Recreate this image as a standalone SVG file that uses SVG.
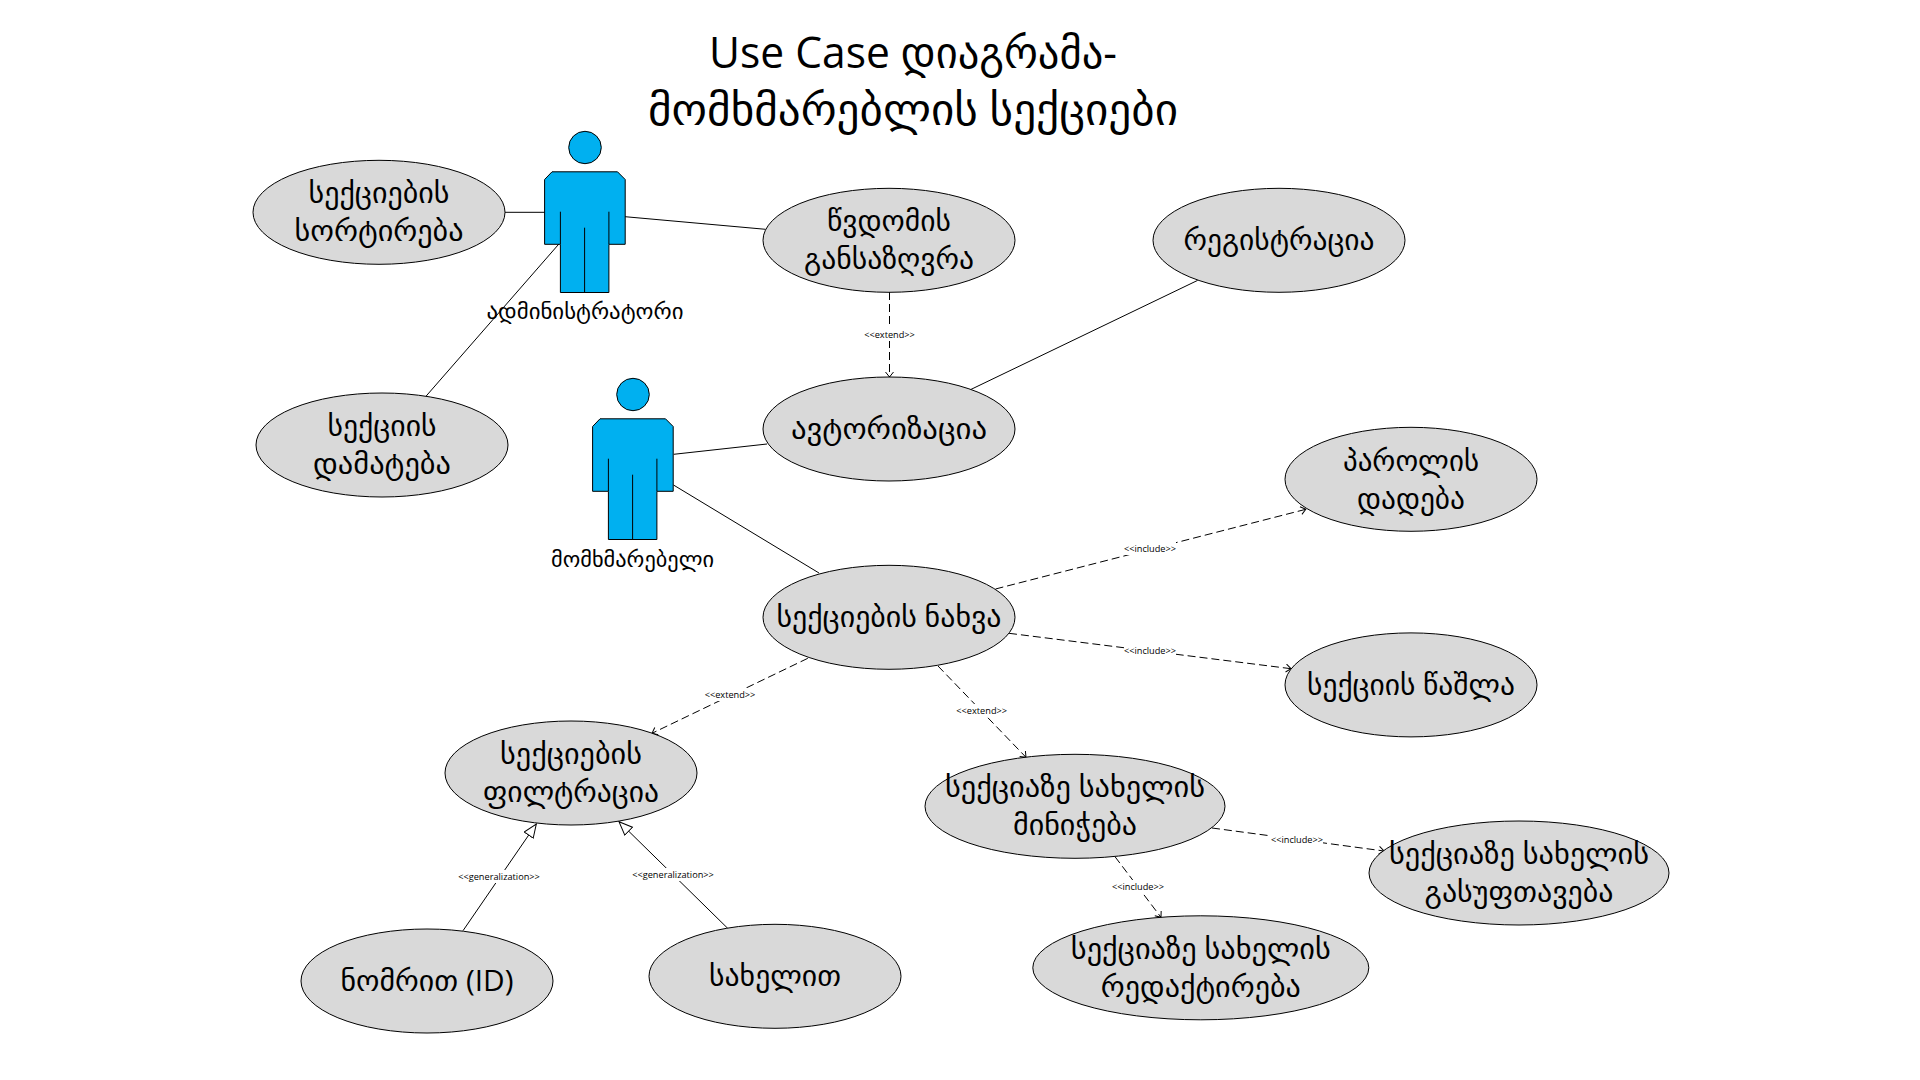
<svg xmlns="http://www.w3.org/2000/svg" width="1920" height="1080" viewBox="0 0 1920 1080">
<defs>
<style>
text{font-family:"Open Sans","DejaVu Sans",sans-serif;fill:#000;text-anchor:middle}
.uc ellipse{fill:#d9d9d9;stroke:#000;stroke-width:1}
.lb{font-size:29px}
.ttl{font-size:44px}
.act{font-size:21px}
.actor *{stroke:#000;stroke-width:1}
.actor .f{fill:#00b0f0}
.actor .l{fill:none}
.s{fill:none;stroke:#000;stroke-width:1}
.d{fill:none;stroke:#000;stroke-width:1;stroke-dasharray:8 4;marker-end:url(#open)}
.g{fill:none;stroke:#000;stroke-width:1;marker-end:url(#tri)}
.cl{font-size:9.200px}
.bg{fill:#fff;stroke:none}
</style>
<marker id="open" markerUnits="userSpaceOnUse" markerWidth="10" markerHeight="10" refX="7" refY="4.500" orient="auto"><path d="M2 0.500L7 4.500L2 8.500" fill="none" stroke="#000" stroke-width="1"/></marker>
<marker id="tri" markerUnits="userSpaceOnUse" markerWidth="16" markerHeight="14" refX="14" refY="6" orient="auto"><path d="M0.500 0.500L14 6L0.500 11.500Z" fill="#fff" stroke="#000" stroke-width="1"/></marker>
</defs>
<rect width="1920" height="1080" fill="#fff"/>
<g id="title">
<text class="ttl" x="913" y="68" textLength="408" lengthAdjust="spacingAndGlyphs">Use Case დიაგრამა-</text>
<text class="ttl" x="913" y="124.500" textLength="530" lengthAdjust="spacingAndGlyphs">მომხმარებლის სექციები</text>
</g>
<g id="connectors">
<line class="s" x1="505" y1="212.300" x2="545" y2="212.300"/>
<line class="s" x1="625" y1="216.700" x2="765.500" y2="229.300"/>
<line class="s" x1="426.200" y1="396" x2="558.900" y2="244"/>
<line class="s" x1="673.700" y1="454.300" x2="767" y2="444"/>
<line class="s" x1="673.500" y1="485" x2="819" y2="573"/>
<line class="s" x1="971" y1="389.400" x2="1197.600" y2="280.400"/>
<line class="d" x1="889.500" y1="292" x2="889.500" y2="377"/>
<line class="d" x1="995.500" y1="589" x2="1305.800" y2="509.300"/>
<line class="d" x1="1009" y1="633.300" x2="1291" y2="668.700"/>
<line class="d" x1="807.800" y1="658.300" x2="652" y2="733.300"/>
<line class="d" x1="938" y1="666" x2="1026" y2="757.300"/>
<line class="d" x1="1212" y1="828" x2="1384" y2="851"/>
<line class="d" x1="1115" y1="856.700" x2="1161" y2="917.300"/>
<line class="g" x1="463" y1="930.700" x2="536.300" y2="824"/>
<line class="g" x1="727.700" y1="928.300" x2="619" y2="821.700"/>
<g id="connector-labels">
<rect class="bg" x="864" y="328" width="51" height="13"/><text class="cl" x="889.500" y="337.500">&lt;&lt;extend&gt;&gt;</text>
<rect class="bg" x="1124" y="542" width="52" height="13"/><text class="cl" x="1150" y="551.500">&lt;&lt;include&gt;&gt;</text>
<rect class="bg" x="1124" y="644" width="52" height="13"/><text class="cl" x="1150" y="654">&lt;&lt;include&gt;&gt;</text>
<rect class="bg" x="704" y="688" width="52" height="13"/><text class="cl" x="730" y="698">&lt;&lt;extend&gt;&gt;</text>
<rect class="bg" x="956" y="704" width="52" height="13"/><text class="cl" x="981.700" y="714">&lt;&lt;extend&gt;&gt;</text>
<rect class="bg" x="1271" y="833" width="52" height="13"/><text class="cl" x="1297" y="843">&lt;&lt;include&gt;&gt;</text>
<rect class="bg" x="1112" y="880" width="52" height="13"/><text class="cl" x="1138" y="890">&lt;&lt;include&gt;&gt;</text>
<rect class="bg" x="457" y="870" width="84" height="13"/><text class="cl" x="499" y="880">&lt;&lt;generalization&gt;&gt;</text>
<rect class="bg" x="631" y="868" width="84" height="13"/><text class="cl" x="673" y="878">&lt;&lt;generalization&gt;&gt;</text>
</g>
</g>
<g id="actor-admin" class="actor">
<ellipse class="f" cx="585" cy="147.500" rx="16.300" ry="16.200"/>
<path class="f" d="M552 171.800H617.500L625.200 179.500V244.300H608.900V292.500H560.400V244.300H544.600V179.500Z"/>
<path class="l" d="M560.400 211.700V244M608.900 211.700V244M584.600 227.700V292.300"/>
<text class="act" style="stroke:none" x="585" y="319" textLength="197" lengthAdjust="spacingAndGlyphs">ადმინისტრატორი</text>
</g>
<g id="actor-user" class="actor">
<ellipse class="f" cx="633" cy="394.500" rx="16.300" ry="16.200"/>
<path class="f" d="M600 418.800H665.500L673.200 426.500V491.300H656.900V539.500H608.400V491.300H592.600V426.500Z"/>
<path class="l" d="M608.400 458.700V491M656.900 458.700V491M632.600 474.700V539.300"/>
<text class="act" style="stroke:none" x="632.500" y="567" textLength="163" lengthAdjust="spacingAndGlyphs">მომხმარებელი</text>
</g>
<g id="uc-sort" class="uc"><ellipse cx="379" cy="212.300" rx="126" ry="52"/>
<text class="lb" x="379" y="203" textLength="141" lengthAdjust="spacingAndGlyphs">სექციების</text>
<text class="lb" x="379" y="241" textLength="169" lengthAdjust="spacingAndGlyphs">სორტირება</text></g>
<g id="uc-add" class="uc"><ellipse cx="382" cy="445" rx="126" ry="52"/>
<text class="lb" x="382" y="436" textLength="109" lengthAdjust="spacingAndGlyphs">სექციის</text>
<text class="lb" x="382" y="474" textLength="138" lengthAdjust="spacingAndGlyphs">დამატება</text></g>
<g id="uc-access" class="uc"><ellipse cx="889" cy="240.300" rx="126" ry="52"/>
<text class="lb" x="889" y="231" textLength="124" lengthAdjust="spacingAndGlyphs">წვდომის</text>
<text class="lb" x="889" y="269" textLength="170" lengthAdjust="spacingAndGlyphs">განსაზღვრა</text></g>
<g id="uc-register" class="uc"><ellipse cx="1279" cy="240.300" rx="126" ry="52"/>
<text class="lb" x="1279" y="250" textLength="191" lengthAdjust="spacingAndGlyphs">რეგისტრაცია</text></g>
<g id="uc-auth" class="uc"><ellipse cx="889" cy="429" rx="126" ry="52"/>
<text class="lb" x="889" y="439" textLength="196" lengthAdjust="spacingAndGlyphs">ავტორიზაცია</text></g>
<g id="uc-view" class="uc"><ellipse cx="889" cy="617.300" rx="126" ry="52"/>
<text class="lb" x="889" y="627" textLength="225" lengthAdjust="spacingAndGlyphs">სექციების ნახვა</text></g>
<g id="uc-password" class="uc"><ellipse cx="1411" cy="479.300" rx="126" ry="52"/>
<text class="lb" x="1411" y="470.500" textLength="136" lengthAdjust="spacingAndGlyphs">პაროლის</text>
<text class="lb" x="1411" y="508.500" textLength="108" lengthAdjust="spacingAndGlyphs">დადება</text></g>
<g id="uc-delete" class="uc"><ellipse cx="1411" cy="684.900" rx="126" ry="52"/>
<text class="lb" x="1411" y="695" textLength="208" lengthAdjust="spacingAndGlyphs">სექციის წაშლა</text></g>
<g id="uc-filter" class="uc"><ellipse cx="571" cy="773" rx="126" ry="52"/>
<text class="lb" x="571" y="764" textLength="142" lengthAdjust="spacingAndGlyphs">სექციების</text>
<text class="lb" x="571" y="802" textLength="176" lengthAdjust="spacingAndGlyphs">ფილტრაცია</text></g>
<g id="uc-assign" class="uc"><ellipse cx="1075" cy="806.300" rx="150" ry="52"/>
<text class="lb" x="1075" y="797" textLength="260" lengthAdjust="spacingAndGlyphs">სექციაზე სახელის</text>
<text class="lb" x="1075" y="835" textLength="124" lengthAdjust="spacingAndGlyphs">მინიჭება</text></g>
<g id="uc-clean" class="uc"><ellipse cx="1519" cy="873" rx="150" ry="52"/>
<text class="lb" x="1519" y="864" textLength="260" lengthAdjust="spacingAndGlyphs">სექციაზე სახელის</text>
<text class="lb" x="1519" y="902" textLength="189" lengthAdjust="spacingAndGlyphs">გასუფთავება</text></g>
<g id="uc-edit" class="uc"><ellipse cx="1200.800" cy="967.800" rx="168" ry="52"/>
<text class="lb" x="1200.800" y="959" textLength="260" lengthAdjust="spacingAndGlyphs">სექციაზე სახელის</text>
<text class="lb" x="1200.800" y="997" textLength="200" lengthAdjust="spacingAndGlyphs">რედაქტირება</text></g>
<g id="uc-id" class="uc"><ellipse cx="427" cy="981" rx="126" ry="52"/>
<text class="lb" x="427" y="991" textLength="173" lengthAdjust="spacingAndGlyphs">ნომრით (ID)</text></g>
<g id="uc-name" class="uc"><ellipse cx="775" cy="976.300" rx="126" ry="52"/>
<text class="lb" x="775" y="986" textLength="132" lengthAdjust="spacingAndGlyphs">სახელით</text></g>
</svg>
